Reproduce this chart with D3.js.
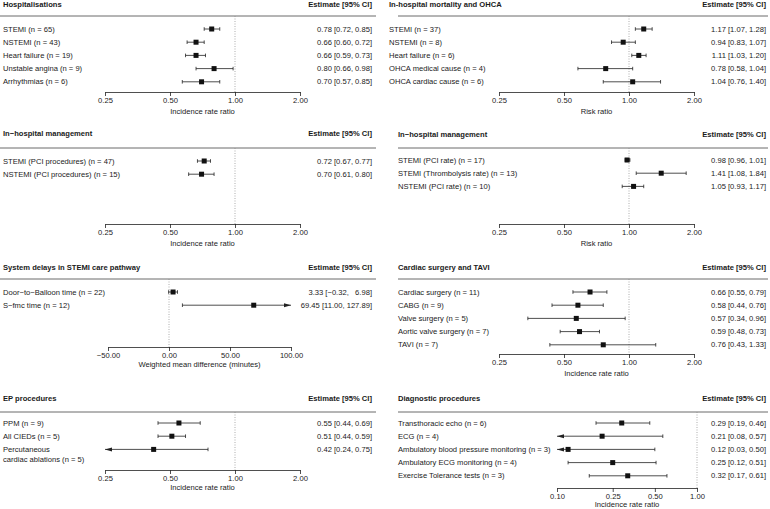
<!DOCTYPE html>
<html><head><meta charset="utf-8">
<script src="https://cdn.jsdelivr.net/npm/d3@7"></script>
<style>
html,body{margin:0;padding:0;background:#fff;}
svg text{font-family:"Liberation Sans",Arial,Helvetica,sans-serif;font-size:7.6px;fill:#1a1a1a;}
</style></head><body>
<svg id="c" width="770" height="509"></svg>
<script>
// ---------- DATA ----------
const hospLabels = ["STEMI (n = 65)","NSTEMI (n = 43)","Heart failure (n = 19)","Unstable angina (n = 9)","Arrhythmias (n = 6)"];
const hospEst = [0.78,0.66,0.66,0.80,0.70];
const hospLo  = [0.72,0.60,0.59,0.66,0.57];
const hospHi  = [0.85,0.72,0.73,0.98,0.85];

const mortLabels = ["STEMI (n = 37)","NSTEMI (n = 8)","Heart failure (n = 6)","OHCA medical cause (n = 4)","OHCA cardiac cause (n = 6)"];
const mortEst = [1.17,0.94,1.11,0.78,1.04];
const mortLo  = [1.07,0.83,1.03,0.58,0.76];
const mortHi  = [1.28,1.07,1.20,1.04,1.40];

const mgmtIrrLabels = ["STEMI (PCI procedures) (n = 47)","NSTEMI (PCI procedures) (n = 15)"];
const mgmtIrrEst = [0.72,0.70];
const mgmtIrrLo  = [0.67,0.61];
const mgmtIrrHi  = [0.77,0.80];

const mgmtRrLabels = ["STEMI (PCI rate) (n = 17)","STEMI (Thrombolysis rate) (n = 13)","NSTEMI (PCI rate) (n = 10)"];
const mgmtRrEst = [0.98,1.41,1.05];
const mgmtRrLo  = [0.96,1.08,0.93];
const mgmtRrHi  = [1.01,1.84,1.17];

const delayLabels = ["Door\u2212to\u2212Balloon time (n = 22)","S\u2212fmc time (n = 12)"];
const delayEst = [3.33,69.45];
const delayLo  = [-0.32,11.00];
const delayHi  = [6.98,127.89];

const surgLabels = ["Cardiac surgery (n = 11)","CABG (n = 9)","Valve surgery (n = 5)","Aortic valve surgery (n = 7)","TAVI (n = 7)"];
const surgEst = [0.66,0.58,0.57,0.59,0.76];
const surgLo  = [0.55,0.44,0.34,0.48,0.43];
const surgHi  = [0.79,0.76,0.96,0.73,1.33];

const epLabels = ["PPM (n = 9)","All CIEDs (n = 5)","Percutaneous\ncardiac ablations (n = 5)"];
const epEst = [0.55,0.51,0.42];
const epLo  = [0.44,0.44,0.24];
const epHi  = [0.69,0.59,0.75];

const diagLabels = ["Transthoracic echo (n = 6)","ECG (n = 4)","Ambulatory blood pressure monitoring (n = 3)","Ambulatory ECG monitoring (n = 4)","Exercise Tolerance tests (n = 3)"];
const diagEst = [0.29,0.21,0.12,0.25,0.32];
const diagLo  = [0.19,0.08,0.03,0.12,0.17];
const diagHi  = [0.46,0.57,0.50,0.51,0.61];

const ratioTicks = [0.25,0.50,1.00,2.00];
const delayTicks = [-50,0,50,100];
const diagTicks = [0.10,0.25,0.50,1.00];

const titles = ["Hospitalisations","In-hospital mortality and OHCA","In\u2212hospital management","In\u2212hospital management","System delays in STEMI care pathway","Cardiac surgery and TAVI","EP procedures","Diagnostic procedures"];
const axisTitles = ["Incidence rate ratio","Risk ratio","Incidence rate ratio","Risk ratio","Weighted mean difference (minutes)","Incidence rate ratio","Incidence rate ratio","Incidence rate ratio"];

// ---------- LAYOUT ----------
const L = {textX:3, lineX0:0, lineX1:376, estX:372, axX0:105, axX1:300};
const R = {textX:398, lineX0:398, lineX1:768, estX:766, axX0:499, axX1:694};
const panels = [
  {col:L, labels:hospLabels, est:hospEst, lo:hospLo, hi:hospHi, ticks:ratioTicks, log:true, ref:1, titleY:4, lineY:16, rowY:29, axisY:92, axT:19},
  {col:Object.assign({},R,{textX:389}), labels:mortLabels, est:mortEst, lo:mortLo, hi:mortHi, ticks:ratioTicks, log:true, ref:1, titleY:4, lineY:16, rowY:29, axisY:92, axT:19},
  {col:L, labels:mgmtIrrLabels, est:mgmtIrrEst, lo:mgmtIrrLo, hi:mgmtIrrHi, ticks:ratioTicks, log:true, ref:1, titleY:133, lineY:148, rowY:161, axisY:224, axT:19},
  {col:R, labels:mgmtRrLabels, est:mgmtRrEst, lo:mgmtRrLo, hi:mgmtRrHi, ticks:ratioTicks, log:true, ref:1, titleY:134, lineY:148, rowY:160, axisY:224, axT:19},
  {col:L, labels:delayLabels, est:delayEst, lo:delayLo, hi:delayHi, ticks:delayTicks, log:false, ref:0, titleY:267, lineY:279, rowY:292, axisY:347, axT:17, axX0:108, axX1:291},
  {col:R, labels:surgLabels, est:surgEst, lo:surgLo, hi:surgHi, ticks:ratioTicks, log:true, ref:1, titleY:267, lineY:279, rowY:292, axisY:354, axT:19},
  {col:L, labels:epLabels, est:epEst, lo:epLo, hi:epHi, ticks:ratioTicks, log:true, ref:1, titleY:398, lineY:412, rowY:423, axisY:470, axT:17},
  {col:R, labels:diagLabels, est:diagEst, lo:diagLo, hi:diagHi, ticks:diagTicks, log:true, ref:1, titleY:398, lineY:412, rowY:423, axisY:488, axT:16.5, axX0:557, axX1:697}
];
const STEP = 13.2;

const svg = d3.select("#c");
const fmt = d3.format(".2f");

panels.forEach((p,pi) => {
  const c = p.col;
  const a0 = p.axX0 !== undefined ? p.axX0 : c.axX0;
  const a1 = p.axX1 !== undefined ? p.axX1 : c.axX1;
  const g = svg.append("g");
  g.append("text").attr("x",c.textX).attr("y",p.titleY).attr("dy","0.35em")
    .style("font-weight","bold").text(titles[pi]);
  g.append("text").attr("x",c.estX).attr("y",p.titleY).attr("dy","0.35em")
    .attr("text-anchor","end").style("font-weight","bold").text("Estimate [95% CI]");
  g.append("line").attr("x1",c.lineX0).attr("x2",c.lineX1).attr("y1",p.lineY).attr("y2",p.lineY)
    .attr("stroke","#6a6a6a").attr("stroke-width",1);

  const dom = [p.ticks[0], p.ticks[p.ticks.length-1]];
  const x = (p.log ? d3.scaleLog() : d3.scaleLinear()).domain(dom).range([a0, a1]);

  // reference line
  g.append("line").attr("x1",x(p.ref)).attr("x2",x(p.ref)).attr("y1",p.lineY).attr("y2",p.axisY)
    .attr("stroke","#8a8a8a").attr("stroke-width",0.7).attr("stroke-dasharray","1,1.5");

  const sE = p.est.map(v=>fmt(v)), sL = p.lo.map(v=>fmt(v)), sH = p.hi.map(v=>fmt(v));
  const wL = d3.max(sL,s=>s.length), wH = d3.max(sH,s=>s.length);

  p.labels.forEach((lab,i) => {
    const y = p.rowY + i*STEP;
    const lines = lab.split("\n");
    lines.forEach((ln,k) => {
      g.append("text").attr("x",c.textX).attr("y",y + k*10).attr("dy","0.35em").text(ln);
    });
    g.append("text").attr("x",c.estX).attr("y",y).attr("dy","0.35em").attr("text-anchor","end")
      .style("white-space","pre")
      .text(sE[i] + " [" + sL[i].padStart(wL," ") + ", " + sH[i].padStart(wH," ") + "]");

    const loT = p.lo[i] < dom[0], hiT = p.hi[i] > dom[1];
    const xa = x(Math.max(p.lo[i],dom[0])), xb = x(Math.min(p.hi[i],dom[1]));
    g.append("line").attr("x1",xa).attr("x2",xb).attr("y1",y).attr("y2",y)
      .attr("stroke","#222").attr("stroke-width",0.8);
    if (!loT) g.append("line").attr("x1",xa).attr("x2",xa).attr("y1",y-1.8).attr("y2",y+1.8).attr("stroke","#222").attr("stroke-width",0.8);
    else g.append("path").attr("d",`M${xa},${y} L${xa+7},${y-2} L${xa+7},${y+2} Z`).attr("fill","#222");
    if (!hiT) g.append("line").attr("x1",xb).attr("x2",xb).attr("y1",y-1.8).attr("y2",y+1.8).attr("stroke","#222").attr("stroke-width",0.8);
    else g.append("path").attr("d",`M${xb},${y} L${xb-7},${y-2} L${xb-7},${y+2} Z`).attr("fill","#222");
    g.append("rect").attr("x",x(p.est[i])-2.5).attr("y",y-2.5).attr("width",5).attr("height",5).attr("fill","#111");
  });

  const ax = g.append("g").attr("transform",`translate(0,${p.axisY})`)
    .call(d3.axisBottom(x).tickValues(p.ticks).tickFormat(fmt).tickSize(4).tickSizeOuter(0).tickPadding(2));
  ax.select(".domain").attr("stroke","#222").attr("stroke-width",0.8);
  ax.selectAll(".tick line").attr("stroke","#222").attr("stroke-width",0.8);
  ax.selectAll(".tick text").style("fill","#1a1a1a");
  ax.attr("font-size",null).attr("font-family",null);

  g.append("text").attr("x",(a0+a1)/2).attr("y",p.axisY+p.axT).attr("dy","0.35em")
    .attr("text-anchor","middle").text(axisTitles[pi]);
});
</script>
</body></html>
